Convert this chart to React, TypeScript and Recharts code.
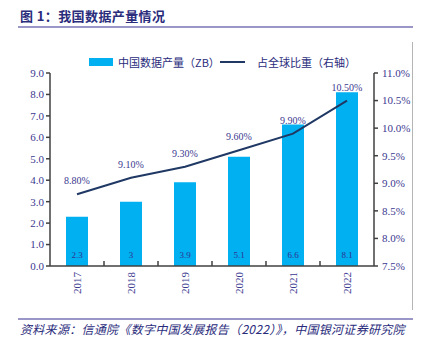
import React from "react";
import {
  ComposedChart,
  Bar,
  Line,
  XAxis,
  YAxis,
  LabelList,
} from "recharts";

const BLUE = "#00B0F0";
const NAVY = "#1F3864";
const INK = "#3B3990";
const AXIS = "#404040";
const RULE = "#9A96C8";
const SERIF = "'Liberation Serif', 'Times New Roman', serif";
const CJK = "'Noto Sans CJK SC', sans-serif";

const years = ["2017", "2018", "2019", "2020", "2021", "2022"];
const output = [2.3, 3, 3.9, 5.1, 6.6, 8.1];
const share = [8.8, 9.1, 9.3, 9.6, 9.9, 10.5];
const leftTicks = [0, 1, 2, 3, 4, 5, 6, 7, 8, 9];
const rightTicks = [7.5, 8, 8.5, 9, 9.5, 10, 10.5, 11];

const data = years.map((year, i) => ({ year, output: output[i], share: share[i] }));

// draws the rotated year plus the small tick at the right edge of its band
function YearTick(props: any) {
  const { x, y, payload, index } = props;
  const count = props.visibleTicksCount || years.length;
  const half = payload.offset
    ? payload.offset
    : props.width
    ? Number(props.width) / count / 2
    : 27;
  return (
    <g>
      {index < count - 1 && (
        <line
          x1={x + half}
          x2={x + half}
          y1={y - 6}
          y2={y - 11}
          stroke={AXIS}
          strokeWidth={1.5}
        />
      )}
      <text
        transform={`translate(${x + 4},${y})rotate(-90)`}
        textAnchor="end"
        fontSize={11}
        fontFamily={SERIF}
        fill={INK}
      >
        {payload.value}
      </text>
    </g>
  );
}

export default function App() {
  return (
    <div
      style={{
        position: "absolute",
        left: 0,
        top: 0,
        width: 425,
        height: 347,
        background: "#fff",
      }}
    >
      <div
        style={{
          position: "absolute",
          left: 20,
          top: 6,
          fontFamily: CJK,
          fontWeight: 700,
          fontSize: 13,
          letterSpacing: 0.4,
          color: "#2A2C7C",
        }}
      >
        图 1：我国数据产量情况
      </div>
      <div style={{ position: "absolute", left: 18, top: 26, width: 395, height: 1.5, background: RULE }} />
      <div style={{ position: "absolute", left: 412, top: 42, width: 1, height: 268, background: "#b5b5b5" }} />

      {/* legend */}
      <div style={{ position: "absolute", left: 89, top: 58, width: 24, height: 8, background: BLUE }} />
      <div
        style={{ position: "absolute", left: 118, top: 54, fontFamily: CJK, fontSize: 11, color: "#2A2C7C" }}
      >
        中国数据产量（ZB）
      </div>
      <div style={{ position: "absolute", left: 220, top: 61, width: 25, height: 2, background: NAVY }} />
      <div
        style={{ position: "absolute", left: 257, top: 54, fontFamily: CJK, fontSize: 11, color: "#2A2C7C" }}
      >
        占全球比重（右轴）
      </div>

      <div style={{ position: "absolute", left: 0, top: 0 }}>
        <ComposedChart
          width={425}
          height={347}
          data={data}
          margin={{ top: 73, right: 0, bottom: 0, left: 0 }}
        >
          <XAxis
            dataKey="year"
            height={81}
            tickLine={false}
            tickSize={0}
            tickMargin={6}
            interval={0}
            axisLine={{ stroke: AXIS, strokeWidth: 1.5 }}
            tick={<YearTick />}
          />
          <YAxis
            yAxisId="left"
            width={50}
            domain={[0, 9]}
            ticks={leftTicks}
            tickFormatter={(v: number) => v.toFixed(1)}
            tickSize={4}
            tickMargin={2}
            axisLine={{ stroke: AXIS, strokeWidth: 1.5 }}
            tickLine={{ stroke: AXIS, strokeWidth: 1.5 }}
            tick={{ fontSize: 11, fontFamily: SERIF, fill: INK }}
          />
          <YAxis
            yAxisId="right"
            orientation="right"
            width={51}
            domain={[7.5, 11]}
            ticks={rightTicks}
            tickFormatter={(v: number) => v.toFixed(1) + "%"}
            tickSize={4}
            tickMargin={4}
            axisLine={{ stroke: AXIS, strokeWidth: 1.5 }}
            tickLine={{ stroke: AXIS, strokeWidth: 1.5 }}
            tick={{ fontSize: 11, fontFamily: SERIF, fill: INK }}
          />
          <Bar yAxisId="left" dataKey="output" fill={BLUE} barSize={22} isAnimationActive={false}>
            <LabelList
              dataKey="output"
              position="insideBottom"
              offset={8}
              fontSize={9}
              fontFamily={SERIF}
              fill="#2F3190"
            />
          </Bar>
          <Line
            yAxisId="right"
            dataKey="share"
            stroke={NAVY}
            strokeWidth={2}
            dot={false}
            isAnimationActive={false}
          >
            <LabelList
              dataKey="share"
              position="top"
              offset={10}
              fontSize={10}
              fontFamily={SERIF}
              fill={INK}
              formatter={(v: any) => Number(v).toFixed(2) + "%"}
            />
          </Line>
        </ComposedChart>
      </div>

      <div style={{ position: "absolute", left: 18, top: 318, width: 395, height: 1.5, background: RULE }} />
      <div
        style={{
          position: "absolute",
          left: 20,
          top: 320,
          fontFamily: CJK,
          fontStyle: "italic",
          fontSize: 12,
          letterSpacing: 0.3,
          color: "#2A2C7C",
          whiteSpace: "nowrap",
        }}
      >
        资料来源：信通院《数字中国发展报告（2022）》，中国银河证券研究院
      </div>
    </div>
  );
}
